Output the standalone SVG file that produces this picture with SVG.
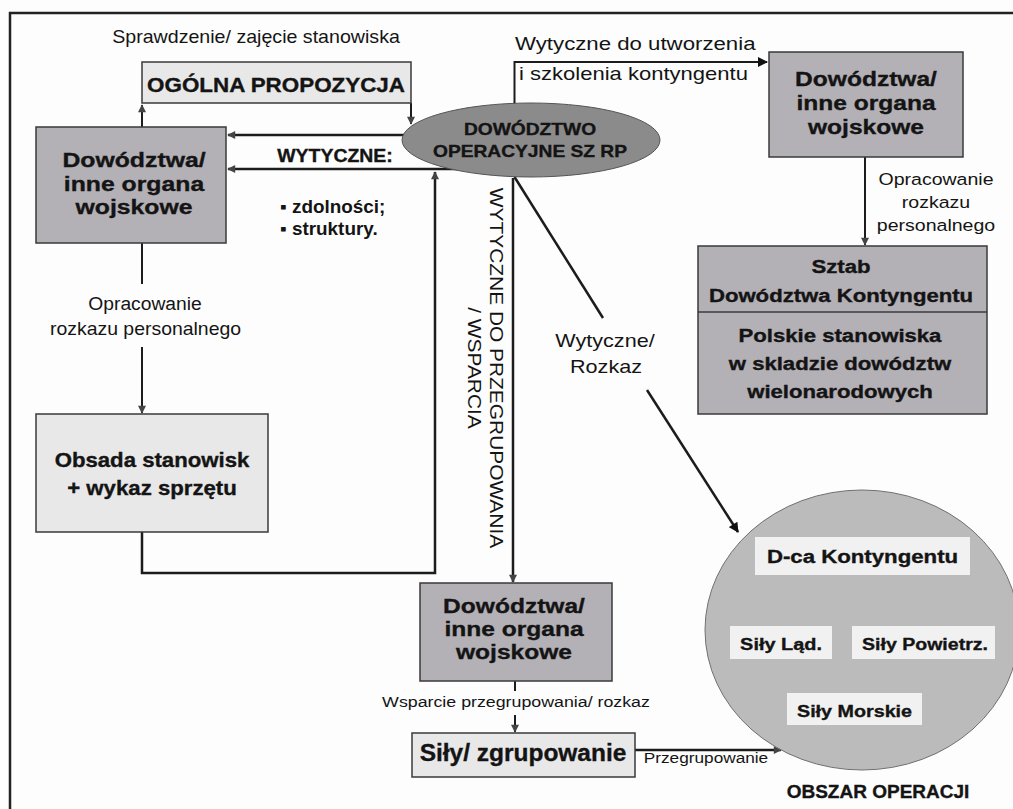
<svg xmlns="http://www.w3.org/2000/svg" width="1013" height="809" viewBox="0 0 1013 809">
  <style>
    text { font-family: "Liberation Sans", Arial, sans-serif; fill: #141414; }
    .b { font-weight: bold; text-anchor: middle; stroke: #141414; stroke-width: 0.35; }
    .r { text-anchor: middle; }
    .l { text-anchor: start; }
    .dark { fill: #b3b0b6; stroke: #3a3a3a; stroke-width: 1.5; }
    .light { fill: #e8e8e8; stroke: #3a3a3a; stroke-width: 1.5; }
    .tag { fill: #f1f1f1; stroke: none; }
    .ln { fill: none; stroke: #1c1c1c; stroke-width: 2.5; }
    .ln2 { fill: none; stroke: #1c1c1c; stroke-width: 2; }
  </style>
  <defs>
    <marker id="a" viewBox="0 0 10 10" refX="9" refY="5" markerWidth="9" markerHeight="8" markerUnits="userSpaceOnUse" orient="auto">
      <path d="M0,0 L10,5 L0,10 z" fill="#444"/>
    </marker>
    <marker id="A" viewBox="0 0 10 10" refX="9" refY="5" markerWidth="12" markerHeight="10" markerUnits="userSpaceOnUse" orient="auto">
      <path d="M0,0 L10,5 L0,10 z" fill="#111"/>
    </marker>
  </defs>

  <rect width="1013" height="809" fill="#fdfdfd"/>
  <!-- page frame -->
  <path d="M10,809 V13 H1013" fill="none" stroke="#222" stroke-width="2.5"/>

  <g id="connectors">
    <!-- left box -> general proposal -> operational command -->
    <path class="ln2" d="M142,127 V105" marker-end="url(#a)"/>
    <path class="ln2" d="M411,103 V124" marker-end="url(#a)"/>
    <text class="r" transform="translate(256 43) scale(1.09 1)" font-size="18">Sprawdzenie/ zajęcie stanowiska</text>

    <!-- guidelines to the left box -->
    <path class="ln" d="M404,135 H228" marker-end="url(#a)"/>
    <path class="ln" d="M470,169 H228" marker-end="url(#a)"/>
    <text class="b" transform="translate(335 162) scale(1.08 1)" font-size="18">WYTYCZNE:</text>
    <text class="l" font-weight="bold" transform="translate(280 213) scale(1.05 1)" font-size="18">▪ zdolności;</text>
    <text class="l" font-weight="bold" transform="translate(280 235) scale(1.05 1)" font-size="18">▪ struktury.</text>

    <!-- left box -> staffing -->
    <path class="ln2" d="M142,243 V284"/>
    <path class="ln2" d="M142,347 V413" marker-end="url(#a)"/>
    <text class="r" transform="translate(145 310) scale(1.07 1)" font-size="18">Opracowanie</text>
    <text class="r" transform="translate(145.5 335) scale(1.08 1)" font-size="18">rozkazu personalnego</text>

    <!-- staffing -> back to command -->
    <path class="ln" d="M142,532 V573 H435 V172" marker-end="url(#a)"/>

    <!-- command -> contingent training -->
    <path class="ln2" d="M514.5,104 V62 H767" marker-end="url(#A)"/>
    <text class="l" transform="translate(515 50) scale(1.17 1)" font-size="19">Wytyczne do utworzenia</text>
    <text class="l" transform="translate(519 80) scale(1.16 1)" font-size="19">i szkolenia kontyngentu</text>

    <!-- upper right box -> contingent staff -->
    <path class="ln2" d="M865,157 V245" marker-end="url(#a)"/>
    <text class="r" transform="translate(936 185) scale(1.15 1)" font-size="17">Opracowanie</text>
    <text class="r" transform="translate(936 208) scale(1.15 1)" font-size="17">rozkazu</text>
    <text class="r" transform="translate(936 231) scale(1.15 1)" font-size="17">personalnego</text>

    <!-- command -> area of operations -->
    <path class="ln" d="M514.5,177 L603,318"/>
    <path class="ln" d="M647,390 L738,532" marker-end="url(#A)"/>
    <text class="r" transform="translate(605 347) scale(1.2 1)" font-size="18">Wytyczne/</text>
    <text class="r" transform="translate(606 373) scale(1.2 1)" font-size="18">Rozkaz</text>

    <!-- command -> lower commands -->
    <path class="ln" d="M513,178 V582" marker-end="url(#a)"/>
    <text class="r" transform="translate(490 368) rotate(90) scale(1.1 1)" font-size="19"><tspan x="0">WYTYCZNE DO PRZEGRUPOWANIA</tspan><tspan x="0" dy="22">/ WSPARCIA</tspan></text>

    <!-- lower commands -> forces -->
    <path class="ln2" d="M515,681 V691"/>
    <path class="ln2" d="M515,715 V732" marker-end="url(#a)"/>
    <text class="r" transform="translate(516 707) scale(1.27 1)" font-size="14">Wsparcie przegrupowania/ rozkaz</text>

    <!-- forces -> area of operations -->
    <path class="ln" d="M635,750 H781" marker-end="url(#a)"/>
    <text class="r" transform="translate(706 763) scale(1.23 1)" font-size="14">Przegrupowanie</text>
  </g>

  <g id="ogolna-propozycja">
    <rect class="light" x="142" y="62" width="269" height="41"/>
    <text class="b" transform="translate(276 92) scale(1.12 1)" font-size="20">OGÓLNA PROPOZYCJA</text>
  </g>

  <g id="dowodztwa-lewe">
    <rect class="dark" x="36" y="127" width="190" height="116"/>
    <text class="b" transform="translate(134 167) scale(1.18 1)" font-size="21"><tspan x="0">Dowództwa/</tspan><tspan x="0" dy="24">inne organa</tspan><tspan x="0" dy="23">wojskowe</tspan></text>
  </g>

  <g id="obsada">
    <rect class="light" x="36" y="414" width="232" height="118"/>
    <text class="b" transform="translate(152 467) scale(1.11 1)" font-size="20"><tspan x="0">Obsada stanowisk</tspan><tspan x="0" dy="28">+ wykaz sprzętu</tspan></text>
  </g>

  <g id="dowodztwo-operacyjne">
    <ellipse cx="531" cy="140" rx="129" ry="37" fill="#8b8b8b" stroke="#555" stroke-width="1"/>
    <text class="b" transform="translate(530 135) scale(1.2 1)" font-size="16"><tspan x="0">DOWÓDZTWO</tspan><tspan x="0" dy="22">OPERACYJNE SZ RP</tspan></text>
  </g>

  <g id="dowodztwa-prawe">
    <rect class="dark" x="769" y="52" width="194" height="105"/>
    <text class="b" transform="translate(866 86) scale(1.17 1)" font-size="21"><tspan x="0">Dowództwa/</tspan><tspan x="0" dy="24">inne organa</tspan><tspan x="0" dy="24">wojskowe</tspan></text>
  </g>

  <g id="sztab">
    <rect class="dark" x="698" y="246" width="289" height="168"/>
    <line x1="698" y1="312" x2="987" y2="312" stroke="#3a3a3a" stroke-width="1.5"/>
    <text class="b" transform="translate(841 273) scale(1.23 1)" font-size="18"><tspan x="0">Sztab</tspan><tspan x="0" dy="29">Dowództwa Kontyngentu</tspan></text>
    <text class="b" transform="translate(840 342) scale(1.23 1)" font-size="18"><tspan x="0">Polskie stanowiska</tspan><tspan x="0" dy="28">w skladzie dowództw</tspan><tspan x="0" dy="28">wielonarodowych</tspan></text>
  </g>

  <g id="dowodztwa-dolne">
    <rect class="dark" x="420" y="583" width="192" height="98"/>
    <text class="b" transform="translate(514 613) scale(1.17 1)" font-size="21"><tspan x="0">Dowództwa/</tspan><tspan x="0" dy="23">inne organa</tspan><tspan x="0" dy="23">wojskowe</tspan></text>
  </g>

  <g id="sily-zgrupowanie">
    <rect class="light" x="412" y="733" width="223" height="44"/>
    <text class="b" transform="translate(523 761) scale(1.02 1)" font-size="24">Siły/ zgrupowanie</text>
  </g>

  <g id="obszar-operacji">
    <ellipse cx="862" cy="630" rx="157" ry="140" fill="#bbbbbb" stroke="#707070" stroke-width="1"/>
    <rect class="tag" x="755" y="537" width="215" height="38"/>
    <text class="b" transform="translate(862.5 563) scale(1.17 1)" font-size="19">D-ca Kontyngentu</text>
    <rect class="tag" x="730" y="626" width="102" height="33"/>
    <text class="b" transform="translate(781 650) scale(1.17 1)" font-size="17">Siły Ląd.</text>
    <rect class="tag" x="852" y="626" width="143" height="33"/>
    <text class="b" transform="translate(925 650) scale(1.15 1)" font-size="17">Siły Powietrz.</text>
    <rect class="tag" x="787" y="693" width="135" height="32"/>
    <text class="b" transform="translate(854.5 717) scale(1.16 1)" font-size="17">Siły Morskie</text>
    <text class="b" transform="translate(878 798)" font-size="19">OBSZAR OPERACJI</text>
  </g>
</svg>
